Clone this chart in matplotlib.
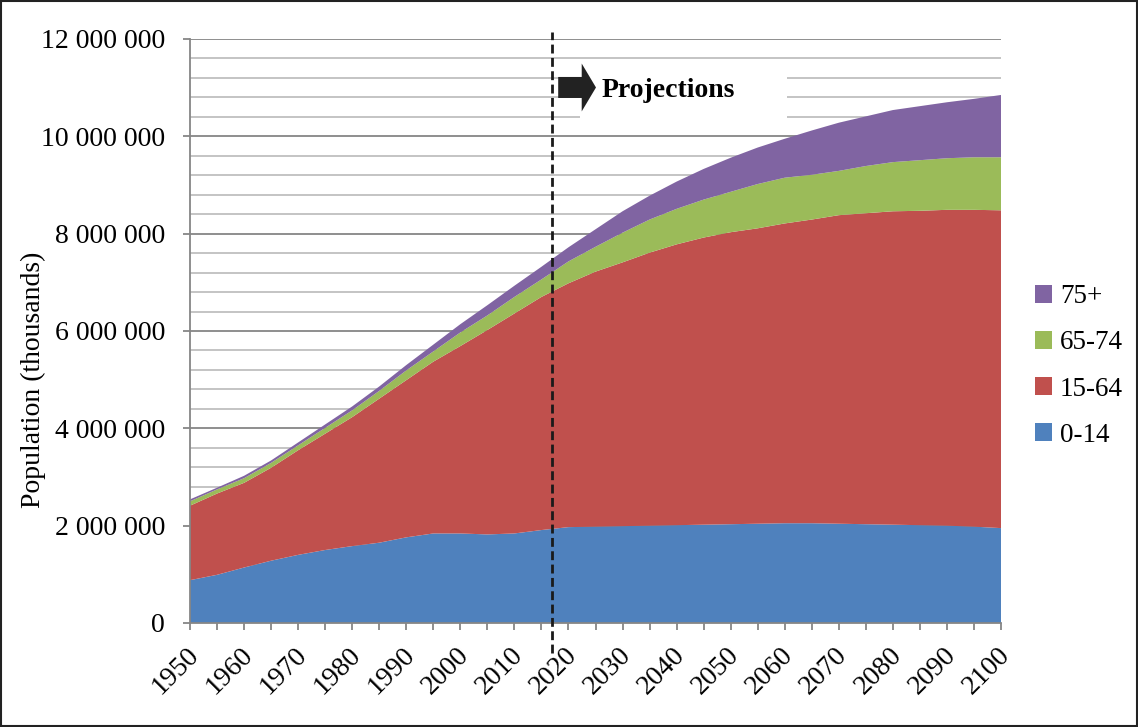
import matplotlib
matplotlib.use("Agg")
import matplotlib.pyplot as plt
import matplotlib.transforms as mtransforms
from matplotlib.patches import Rectangle, Polygon
from matplotlib.ticker import MultipleLocator, FuncFormatter

plt.rcParams["font.family"] = ["Liberation Serif", "DejaVu Serif"]

# World population by broad age group (thousands), 1950-2100
years = list(range(1950, 2101, 5))
age_0_14 = [880000, 990000, 1140000, 1280000, 1400000, 1500000, 1580000, 1650000,
            1760000, 1840000, 1840000, 1820000, 1840000, 1910000, 1970000, 1980000,
            1990000, 2000000, 2010000, 2020000, 2030000, 2040000, 2050000, 2050000,
            2040000, 2030000, 2020000, 2010000, 2000000, 1980000, 1950000]
age_15_64 = [1530000, 1670000, 1740000, 1910000, 2150000, 2390000, 2650000, 2960000,
             3230000, 3530000, 3850000, 4200000, 4520000, 4790000, 5010000, 5240000,
             5420000, 5610000, 5770000, 5900000, 6000000, 6070000, 6160000, 6240000,
             6340000, 6390000, 6440000, 6460000, 6490000, 6510000, 6530000]
age_65_74 = [90000, 85000, 95000, 100000, 100000, 120000, 140000, 160000,
             200000, 210000, 280000, 300000, 340000, 360000, 450000, 510000,
             610000, 680000, 730000, 780000, 830000, 910000, 940000, 920000,
             910000, 970000, 1010000, 1040000, 1060000, 1080000, 1090000]
age_75_plus = [40000, 35000, 50000, 50000, 60000, 70000, 80000, 90000,
               110000, 140000, 170000, 210000, 230000, 260000, 290000, 360000,
               440000, 490000, 560000, 630000, 700000, 750000, 800000, 910000,
               990000, 1020000, 1070000, 1110000, 1150000, 1200000, 1280000]

series_labels = ["0-14", "15-64", "65-74", "75+"]
series_colors = ["#4F81BD", "#C0504D", "#9BBB59", "#8064A2"]
projection_start = 2017
projection_label = "Projections"
y_label = "Population (thousands)"

fig = plt.figure(figsize=(11.38, 7.27), dpi=100)
ax = fig.add_axes([190 / 1138, 104 / 727, 811 / 1138, 584 / 727])

polys = ax.stackplot(years, age_0_14, age_15_64, age_65_74, age_75_plus,
                     colors=series_colors, labels=series_labels,
                     linewidth=0, zorder=2)

ax.set_xlim(1950, 2100)
ax.set_ylim(0, 12_000_000)

# y axis: major every 2M, light grid every 400k
ax.yaxis.set_major_locator(MultipleLocator(2_000_000))
ax.yaxis.set_minor_locator(MultipleLocator(400_000))
ax.yaxis.set_major_formatter(FuncFormatter(lambda v, p: f"{int(v):,}".replace(",", " ")))
ax.set_axisbelow(True)
ax.grid(which="minor", axis="y", color="#BFBFBF", linewidth=1.3)
ax.grid(which="major", axis="y", color="#868686", linewidth=1.3)
ax.tick_params(axis="y", which="major", length=5, width=1.3, color="#868686",
               labelsize=20, pad=13, labelcolor="black")
ax.tick_params(axis="y", which="minor", length=0)

# x axis: ticks every 5 years, labels every 10
ax.xaxis.set_major_locator(MultipleLocator(10))
ax.xaxis.set_minor_locator(MultipleLocator(5))
ax.tick_params(axis="x", which="both", length=5, width=1.3, color="#868686")
ax.tick_params(axis="x", which="major", labelsize=20, pad=9, labelcolor="black")
offset = mtransforms.ScaledTranslation(-4 / 100, 0, fig.dpi_scale_trans)
for lab in ax.get_xticklabels():
    lab.set_rotation(45)
    lab.set_ha("right")
    lab.set_va("top")
    lab.set_rotation_mode("anchor")
    lab.set_transform(lab.get_transform() + offset)

for side in ("top", "right"):
    ax.spines[side].set_visible(False)
for side in ("left", "bottom"):
    ax.spines[side].set_color("#868686")
    ax.spines[side].set_linewidth(1.3)

# start of the projection period
blend = mtransforms.blended_transform_factory(ax.transData, ax.transAxes)
ax.plot([projection_start, projection_start], [-0.052, 1.012], transform=blend,
        color="#1a1a1a", linewidth=2, linestyle=(0, (3.2, 1.6)),
        clip_on=False, zorder=5)

# label box with arrow
ax.add_patch(Rectangle((0.481, 0.8596), 0.255, 0.101, transform=ax.transAxes,
                       facecolor="white", edgecolor="none", zorder=3))
arrow = Polygon([(0.454, 0.899), (0.483, 0.899), (0.483, 0.876), (0.5006, 0.917),
                 (0.483, 0.958), (0.483, 0.935), (0.454, 0.935)],
                closed=True, transform=ax.transAxes, facecolor="#222222",
                edgecolor="none", zorder=4)
ax.add_patch(arrow)
ax.text(0.507, 0.912, projection_label, transform=ax.transAxes, fontsize=20,
        fontweight="bold", ha="left", va="center", zorder=6)

fig.text(33 / 1138, 1 - 380 / 727, y_label, rotation=90, fontsize=20,
         ha="center", va="center")

handles, labels = ax.get_legend_handles_labels()
fig.legend(handles[::-1], labels[::-1], loc="center left",
           bbox_to_anchor=(1035 / 1138, 1 - 366 / 727), frameon=False,
           fontsize=19.5, handlelength=0.62, handleheight=0.62, handletextpad=0.3,
           labelspacing=0.78, borderpad=0, borderaxespad=0)

fig.patches.append(Rectangle((0.0012, 0.0018), 0.9976, 0.9964, transform=fig.transFigure,
                             fill=False, edgecolor="#222222", linewidth=1.5))

fig.savefig("out.png", dpi=100)
